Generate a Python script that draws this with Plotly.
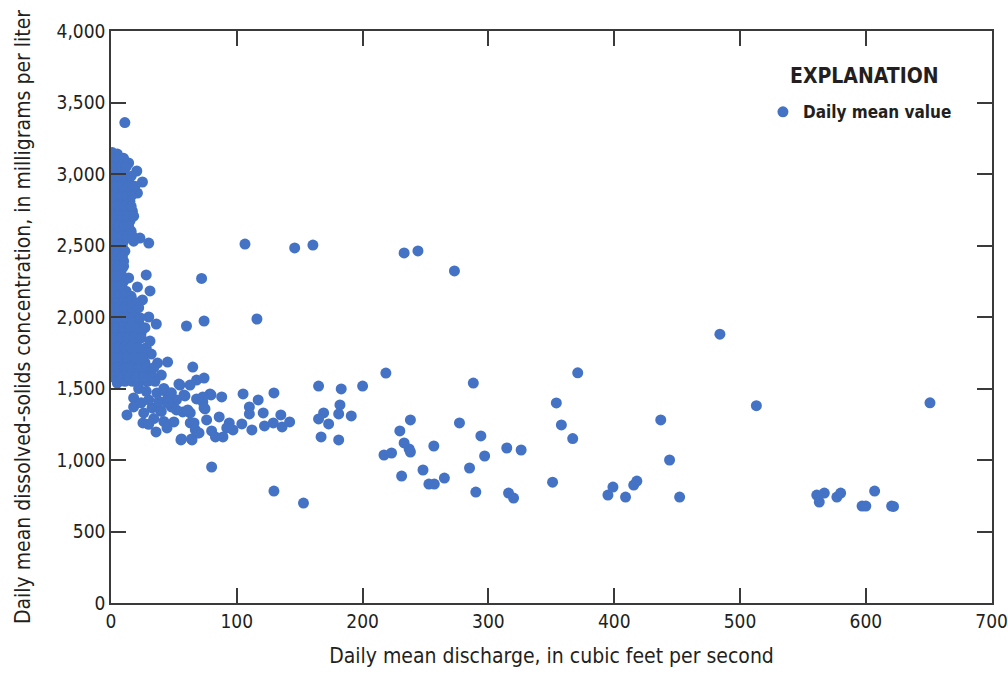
import plotly.graph_objects as go

# Daily mean discharge (ft3/s) and daily mean dissolved-solids concentration (mg/L)
# dense cluster near zero discharge - upper part
x_upper = [11, 1, 5, 3, 8, 14, 2, 6, 10, 20.5, 25, 1, 5, 9, 14, 2, 7, 12, 17, 21, 1, 5, 10, 15,
           3, 8, 13, 17, 1, 5, 10, 15, 2, 7, 12, 16, 23, 30, 1, 5, 10, 18,
           2, 6, 10, 1, 4, 8, 12, 3, 7, 11, 16, 1, 4, 9, 14, 19, 3, 8, 13, 16,
           1, 6, 11, 16, 3, 8, 13, 18, 1, 6, 11, 14, 3, 8, 13, 17, 1, 5, 9]
y_upper = [3360, 3150, 3140, 3090, 3080, 3077, 3020, 3020, 3020, 3021, 2944, 2950, 2950, 2950, 2950,
           2880, 2880, 2880, 2880, 2867, 2810, 2810, 2810, 2810, 2740, 2740, 2740, 2740,
           2670, 2670, 2670, 2670, 2600, 2600, 2600, 2600, 2552, 2517, 2530, 2530, 2530, 2530,
           3110, 3110, 3110, 3050, 3050, 3050, 3050, 2985, 2985, 2985, 2985, 2915, 2915, 2915, 2915, 2915,
           2845, 2845, 2845, 2845, 2775, 2775, 2775, 2775, 2705, 2705, 2705, 2705,
           2635, 2635, 2635, 2635, 2565, 2565, 2565, 2565, 2495, 2495, 2495]

# middle part of cluster
x_mid = [2, 7, 11, 1, 6, 10, 3, 8, 14, 28, 1, 5, 10, 21, 31, 2, 7, 12, 25,
         1, 4, 9, 2, 6, 10, 1, 4, 8, 3, 8, 1, 6, 11, 16]
y_mid = [2460, 2460, 2460, 2390, 2390, 2390, 2320, 2320, 2273, 2294, 2250, 2250, 2250, 2210, 2182,
         2180, 2180, 2180, 2119,
         2425, 2425, 2425, 2355, 2355, 2355, 2285, 2285, 2285, 2215, 2215, 2145, 2145, 2145, 2145]

# lower part of cluster
x_lower = [1, 5, 10, 15, 20, 3, 8, 13, 18, 30, 36, 1, 6, 11, 16, 22, 2, 7, 12, 17, 24, 31,
           1, 5, 10, 15, 20, 32, 3, 8, 13, 18, 24, 45, 37, 1, 6, 11, 16, 21, 27, 40,
           3, 8, 13, 19, 25, 31, 5, 11, 17, 23, 29, 35,
           1, 6, 11, 16, 22, 2, 7, 12, 17, 23, 1, 5, 10, 15, 20, 27, 3, 8, 13, 18, 24,
           1, 6, 11, 16, 22, 28, 3, 8, 13, 19, 25, 1, 6, 11, 16, 22, 29, 34, 2, 8, 14, 20, 26, 33]
y_lower = [2100, 2100, 2100, 2100, 2100, 2030, 2030, 2030, 2030, 2000, 1951, 1960, 1960, 1960, 1960, 1960,
           1890, 1890, 1890, 1890, 1890, 1832, 1820, 1820, 1820, 1820, 1820, 1741,
           1750, 1750, 1750, 1750, 1750, 1685, 1678, 1680, 1680, 1680, 1680, 1680, 1680, 1594,
           1610, 1610, 1610, 1610, 1610, 1610, 1538, 1550, 1550, 1550, 1550, 1550,
           2065, 2065, 2065, 2065, 2065, 1995, 1995, 1995, 1995, 1995, 1925, 1925, 1925, 1925, 1925, 1925,
           1855, 1855, 1855, 1855, 1855, 1785, 1785, 1785, 1785, 1785, 1785, 1715, 1715, 1715, 1715, 1715,
           1645, 1645, 1645, 1645, 1645, 1645, 1645, 1580, 1580, 1580, 1580, 1580, 1580]

# low-discharge tail (roughly 10-150 ft3/s)
x_tail = [60, 74, 72, 116, 65, 68, 74, 62.8, 54.8, 58.8, 78.7, 88, 105, 129.5, 68, 73, 74.7, 117,
          110, 110, 121, 135, 142, 136, 129, 122, 112, 104, 94, 92, 97, 86, 76, 63, 57, 63, 67,
          69, 64, 56, 80, 83, 89, 80, 129.5, 153,
          18, 18, 12.7, 26, 32.6, 25.4, 35.8, 44.5, 50, 36.5, 58, 55.6, 64.4, 70, 66, 62, 74,
          79.5, 54, 43, 44.5, 52, 39, 48, 52, 61, 73, 22, 28, 42, 48, 24, 30, 38, 45, 40, 34, 42, 30]
y_tail = [1937, 1972, 2270, 1986, 1650, 1559, 1573, 1524, 1524, 1448, 1462, 1441, 1462, 1469, 1427,
          1406, 1357, 1420, 1371, 1322, 1329, 1315, 1266, 1231, 1259, 1238, 1210, 1252, 1259, 1224,
          1210, 1301, 1280, 1329, 1336, 1259, 1210, 1189, 1147, 1147, 1203, 1161, 1161, 951, 783, 699,
          1434, 1371, 1315, 1329, 1364, 1259, 1196, 1224, 1266, 1469, 1455, 1140, 1140, 1189, 1259,
          1336, 1364, 1455, 1531, 1482, 1420, 1420, 1350, 1371, 1350, 1350, 1441, 1500, 1480, 1500,
          1470, 1400, 1420, 1410, 1400, 1340, 1290, 1270, 1250]

# moderate discharge (100-330 ft3/s)
x_moderate = [106.5, 146, 160.5, 233, 244, 273, 165, 183, 200, 169, 165, 173, 182, 181, 191, 167, 181,
              218.5, 288, 238, 229.6, 233, 237, 238, 217, 223, 256.6, 277, 294, 314.6, 326, 297,
              231, 248, 252.7, 257, 265, 285, 290, 316, 320]
y_moderate = [2510, 2483, 2503, 2448, 2462, 2322, 1517, 1497, 1517, 1329, 1287, 1252, 1385, 1322, 1308,
              1161, 1140, 1608, 1538, 1280, 1203, 1119, 1077, 1056, 1035, 1049, 1098, 1259, 1168, 1084,
              1070, 1028, 888, 930, 832, 832, 874, 944, 776, 769, 734]

# high discharge (>330 ft3/s)
x_high = [351, 354, 358, 367, 371, 395, 399, 409, 415.5, 418, 437, 444, 452, 484, 513, 561, 563,
          567, 577, 580, 597, 600, 607, 620.5, 622, 651]
y_high = [845, 1399, 1245, 1150, 1610, 755, 811, 741, 825, 853, 1280, 1000, 741, 1880, 1380, 755,
          706, 769, 741, 769, 678, 678, 783, 678, 675, 1400]

discharge = x_upper + x_mid + x_lower + x_tail + x_moderate + x_high
concentration = y_upper + y_mid + y_lower + y_tail + y_moderate + y_high

x_ticks = [0, 100, 200, 300, 400, 500, 600, 700]
y_ticks = [0, 500, 1000, 1500, 2000, 2500, 3000, 3500, 4000]

FONT = "Liberation Sans Narrow, DejaVu Sans Condensed, Arial Narrow, sans-serif"
TXT = "#231f20"
AX = "#3a3a3a"

fig = go.Figure()
fig.add_trace(go.Scatter(
    x=discharge, y=concentration, mode="markers", name="<b>Daily mean value</b>",
    marker=dict(color="#4472C4", size=11, line=dict(width=0)),
))

axis_common = dict(
    showgrid=False, zeroline=False, showline=True, linecolor=AX, linewidth=1.5,
    mirror="ticks", ticks="inside", ticklen=15, tickwidth=1.5, tickcolor=AX,
    tickfont=dict(family=FONT, size=19, color=TXT), automargin=False,
)
fig.update_xaxes(range=[0, 700.3], tickvals=x_ticks, ticktext=[str(v) for v in x_ticks],
                 title=dict(text="Daily mean discharge, in cubic feet per second",
                            font=dict(family=FONT, size=21, color=TXT), standoff=18),
                 **axis_common)
fig.update_yaxes(range=[0, 4000], tickvals=y_ticks, tickformat=",",
                 title=dict(text="Daily mean dissolved-solids concentration, in milligrams per liter",
                            font=dict(family=FONT, size=21, color=TXT), standoff=20),
                 **axis_common)

fig.add_annotation(text="<b>EXPLANATION</b>", xref="paper", yref="paper", x=0.855, y=0.921,
                   xanchor="center", yanchor="middle",
                   showarrow=False, font=dict(family=FONT, size=21, color=TXT))

fig.update_layout(
    width=1008, height=677, paper_bgcolor="white", plot_bgcolor="white",
    margin=dict(l=111, r=16, t=31, b=74),
    showlegend=True,
    legend=dict(x=0.74, y=0.858, xanchor="left", yanchor="middle", bgcolor="rgba(0,0,0,0)",
                font=dict(family=FONT, size=17, color=TXT)),
)

fig.write_html("out.html")
